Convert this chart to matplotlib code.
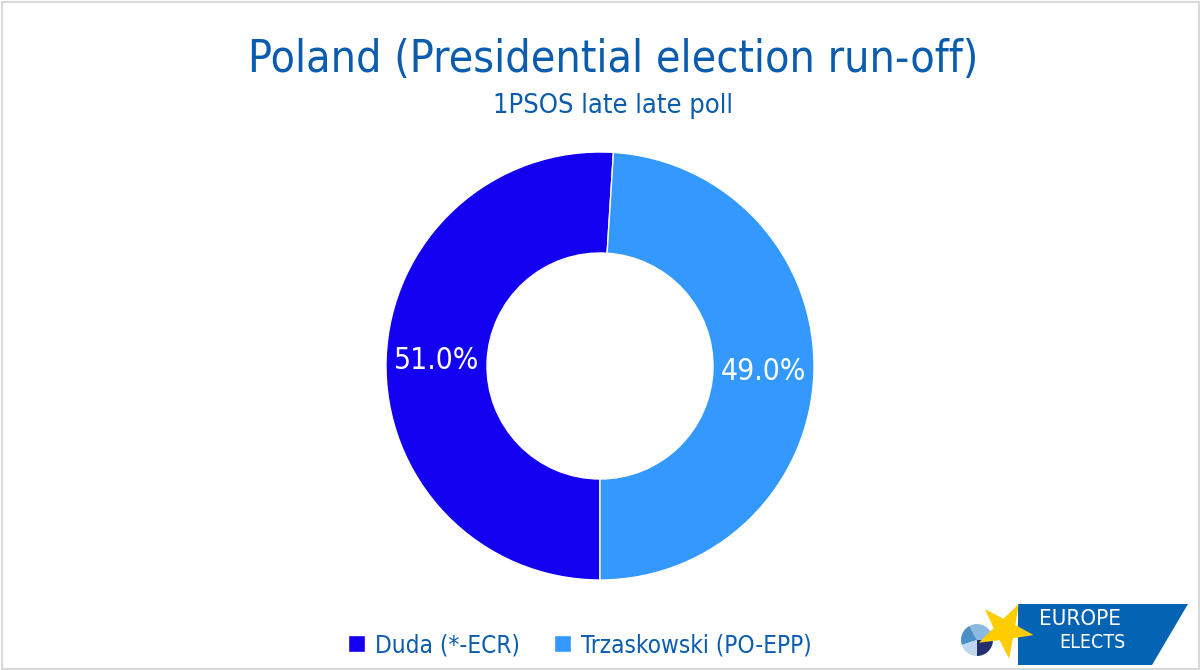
import numpy as np
import matplotlib.pyplot as plt
from matplotlib.patches import Polygon, Rectangle, Wedge

TITLE = 'Poland (Presidential election run-off)'
SUBTITLE = '1PSOS late late poll'
CANDIDATES = ['Duda (*-ECR)', 'Trzaskowski (PO-EPP)']
SHARES = [51.0, 49.0]
COLORS = ['#1400F0', '#3399FF']
LOGO_SHARES = [25, 33, 22, 20]
LOGO_COLORS = ['#22306E', '#8DB8E0', '#4A8FC5', '#BFD7EE']

TEXT_BLUE = '#0B5CAD'
plt.rcParams['font.family'] = ['DejaVu Sans']
plt.rcParams['font.stretch'] = 'condensed'

W, H = 1200, 670
fig = plt.figure(figsize=(12, 6.7), dpi=100)
ax = fig.add_axes([0, 0, 1, 1])


def py(y):
    # pixel row from top -> data y
    return H - y


# donut
wedges, _, autotexts = ax.pie(
    SHARES, colors=COLORS, startangle=-90, counterclock=False,
    center=(600, py(366)), radius=214, autopct='%.1f%%', pctdistance=0.765,
    wedgeprops=dict(width=101, edgecolor='white', linewidth=1),
    textprops=dict(color='white', fontsize=21.5),
)
ax.set_xlim(0, W)
ax.set_ylim(0, H)
ax.set_aspect('equal')
ax.axis('off')

# light frame
ax.add_patch(Rectangle((1.5, 1.5), W - 3, H - 3, fill=False, edgecolor='#D9D9D9', linewidth=1.5))

ax.text(613, py(72), TITLE, ha='center', va='baseline', fontsize=32, color=TEXT_BLUE)
ax.text(613, py(113), SUBTITLE, ha='center', va='baseline', fontsize=19.5, color=TEXT_BLUE)

leg = ax.legend(wedges, CANDIDATES, loc='center', bbox_to_anchor=(580 / W, (H - 645) / H),
                ncol=2, frameon=False, fontsize=17.5, handlelength=0.7, handleheight=0.7,
                handletextpad=0.4, columnspacing=1.4)
for t in leg.get_texts():
    t.set_color(TEXT_BLUE)

# Europe Elects logo
ax.add_patch(Polygon([(1018, py(604)), (1188, py(604)), (1152, py(665)), (1018, py(665))],
                     closed=True, facecolor='#0563B4', edgecolor='none', zorder=3))
start = -90
for share, col in zip(LOGO_SHARES, LOGO_COLORS):
    sweep = share / sum(LOGO_SHARES) * 360
    ax.add_patch(Wedge((977, py(640)), 16, start, start + sweep, facecolor=col, edgecolor='none', zorder=4))
    start += sweep
ang = np.deg2rad(np.arange(10) * 36 + 62)
rad = np.where(np.arange(10) % 2 == 0, 29, 11.5)
star = np.column_stack((1005 + rad * np.cos(ang), py(630) + rad * np.sin(ang)))
ax.add_patch(Polygon(star, closed=True, facecolor='#FFCC00', edgecolor='none', zorder=5))
ax.text(1080, py(619), 'EUROPE', ha='center', va='center', fontsize=16, color='white', zorder=6)
ax.text(1092, py(642.5), 'ELECTS', ha='center', va='center', fontsize=14, color='white', zorder=6)

fig.savefig('out.png', dpi=100)
